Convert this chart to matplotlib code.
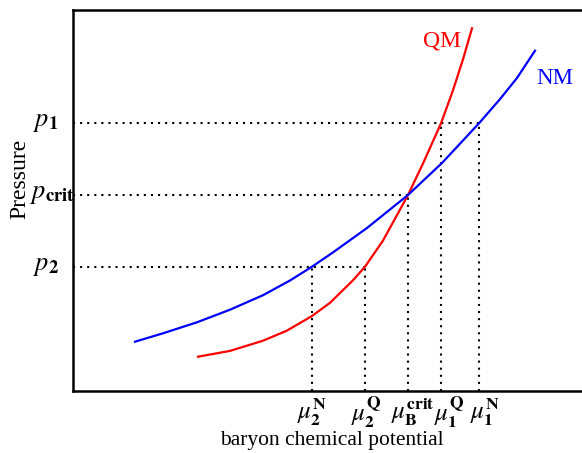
import numpy as np
import matplotlib
matplotlib.use('Agg')
import matplotlib.pyplot as plt

plt.rcParams['font.family'] = ['Liberation Serif', 'DejaVu Serif']
plt.rcParams['mathtext.fontset'] = 'stix'

# curves (chemical potential, pressure) in arbitrary units
mu_nm = [135, 163, 197, 230, 263, 290, 312, 333, 367, 408, 442, 479, 500, 517, 535]
p_nm = [49.3, 57.7, 68.7, 81.3, 95.8, 110.5, 124.3, 138.6, 163, 196, 228, 267.7, 291.9, 313, 340.3]
mu_qm = [198, 230, 263, 287, 312, 330, 353, 365, 383, 408, 423, 441, 453, 463, 472]
p_qm = [34.3, 40.1, 50.3, 60.4, 75, 88.2, 110.7, 124.3, 150.4, 196, 227.5, 267.7, 300.7, 331.7, 362.7]

# pressure levels and crossing points
p_levels = [267.7, 196, 124.3]
p_labels = [r'$p_{\mathbf{1}}$', r'$p_{\mathbf{crit}}$', r'$p_{\mathbf{2}}$']
p_ends = [479, 408, 365]
mu_points = [312, 365, 408, 441, 479]
mu_tops = [124.3, 124.3, 196, 267.7, 267.7]
mu_labels = [r'$\mu_{\mathbf{2}}^{\mathbf{N}}$', r'$\mu_{\mathbf{2}}^{\mathbf{Q}}$',
             r'$\mu_{\mathbf{B}}^{\mathbf{crit}}$', r'$\mu_{\mathbf{1}}^{\mathbf{Q}}$',
             r'$\mu_{\mathbf{1}}^{\mathbf{N}}$']

fig = plt.figure(figsize=(5.82, 4.53), dpi=100)
ax = fig.add_axes([73/582, 62/453, (600-73)/582, 381/453])
ax.set_xlim(73, 600)
ax.set_ylim(0, 381)

dots = dict(color='black', linestyle=(0, (1, 2.4)), linewidth=1.5)
for p, end in zip(p_levels, p_ends):
    ax.plot([73, end], [p, p], **dots)
for mu, top in zip(mu_points, mu_tops):
    ax.plot([mu, mu], [0, top], **dots)

ax.plot(mu_qm, p_qm, color='#ff0000', linewidth=1.6, solid_joinstyle='round')
ax.plot(mu_nm, p_nm, color='#0000ff', linewidth=1.6, solid_joinstyle='round')

ax.text(442, 350, 'QM', color='#ff0000', fontsize=17, ha='center', va='center')
ax.text(555, 313, 'NM', color='#0000ff', fontsize=16.5, ha='center', va='center')

# pressure labels
p_xpos = [46, 53, 46]
for p, lab, x in zip(p_levels, p_labels, p_xpos):
    ax.text(x, p, lab, fontsize=19, ha='center', va='center', clip_on=False)

# chemical potential labels
mu_xpos = [312, 366, 413, 449, 485]
for x, lab in zip(mu_xpos, mu_labels):
    ax.text(x, -21, lab, fontsize=18, ha='center', va='center', clip_on=False)

fig.text(20/582, 1 - 179/453, 'Pressure', fontsize=17, rotation=90,
         ha='center', va='center')
fig.text(332/582, 1 - 441/453, 'baryon chemical potential', fontsize=15.5,
         ha='center', va='center')

ax.set_xticks([])
ax.set_yticks([])
ax.spines['right'].set_visible(False)
for s in ['left', 'bottom', 'top']:
    ax.spines[s].set_linewidth(1.8)

fig.savefig('out.png', dpi=100)
